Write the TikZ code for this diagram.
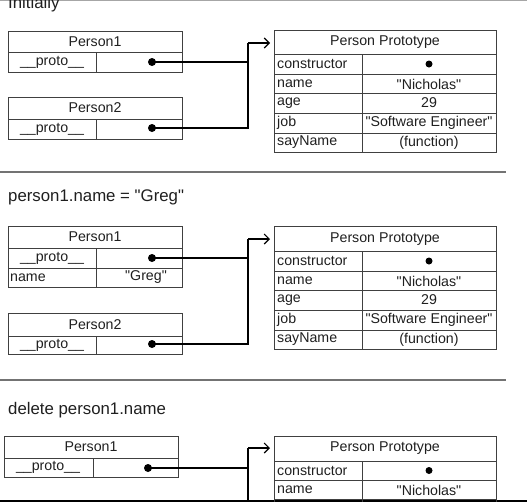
\documentclass[tikz,border=0pt]{standalone}
\usepackage{fontspec}
\setmainfont{Liberation Sans}
\usetikzlibrary{arrows.meta}
\newcommand{\qq}[1]{\textquotedbl#1\textquotedbl}
\begin{document}
\begin{tikzpicture}[x=1pt,y=-1pt,
  grid/.style={draw=black!75,line width=0.9pt},
  txt/.style={inner sep=0pt,font=\fontsize{14.2}{15}\selectfont,text=black!88},
  ltxt/.style={txt,anchor=west},
  title/.style={inner sep=0pt,anchor=base west,font=\fontsize{16.8}{18}\selectfont,text=black!88},
  dot/.style={circle,fill=black,inner sep=0pt,minimum size=8pt},
  sdot/.style={circle,fill=black,inner sep=0pt,minimum size=7pt},
  conn/.style={draw=black,line width=1.1pt},
  arr/.style={conn,-{Straight Barb[length=5pt,width=10pt,line width=1.1pt]},shorten >=4pt},
  sep/.style={draw=black!55,line width=2pt}]
\useasboundingbox (0,0) rectangle (527,501);
\clip (0,0) rectangle (527,501);
% frame lines
\draw[draw=black!35,line width=1pt] (0,0.5) -- (527,0.5);
\draw[sep] (0,172) -- (506,172);
\draw[sep] (0,380) -- (506,380);
\draw[draw=black,line width=2pt] (0,500.5) -- (527,500.5);

% ================= Section 1 =================
\node[title] (t1) at (8,8) {Initially};
% Person1
\draw[grid] (8,31) rectangle (182,72);
\draw[grid] (8,52) -- (182,52) (96,52) -- (96,72);
\node[txt] (p1a) at (95,41.5) {Person1};
\node[txt] (p1ap) at (52,62) {\_\_proto\_\_};
\node[dot] (d1a) at (152,62) {};
% Person2
\draw[grid] (8,97) rectangle (182,139);
\draw[grid] (8,119) -- (182,119) (96,119) -- (96,139);
\node[txt] (p2a) at (95,108) {Person2};
\node[txt] (p2ap) at (52,129) {\_\_proto\_\_};
\node[dot] (d2a) at (152,128) {};
% Prototype
\draw[grid] (274,30) rectangle (496,152);
\foreach \y in {54,74,93,113,133} \draw[grid] (274,\y) -- (496,\y);
\draw[grid] (362,54) -- (362,152);
\node[txt] (pra) at (385,42) {Person Prototype};
\coordinate (pra-in) at (274,43);
\node[ltxt] (pra1) at (277,64) {constructor};
\node[sdot] (pra1v) at (429,64) {};
\node[ltxt] (pra2) at (277,84) {name};
\node[txt] (pra2v) at (429,84) {\qq{Nicholas}};
\node[ltxt] (pra3) at (277,103) {age};
\node[txt] (pra3v) at (429,103) {29};
\node[ltxt] (pra4) at (277,123) {job};
\node[txt] (pra4v) at (429,123) {\qq{Software Engineer}};
\node[ltxt] (pra5) at (277,142.5) {sayName};
\node[txt] (pra5v) at (429,142.5) {(function)};
% connectors
\coordinate (ja) at (248,62);
\coordinate (ka) at (248,43);
\draw[conn] (d1a.center) -- (ja);
\draw[conn] (d2a.center) -| (ka);
\draw[arr] (ka) -- (pra-in);

% ================= Section 2 =================
\node[title] (t2) at (8,201) {person1.name = \qq{Greg}};
% Person1
\draw[grid] (8,226) rectangle (182,287);
\draw[grid] (8,248) -- (182,248) (8,268) -- (182,268) (96,248) -- (96,287);
\node[txt] (p1b) at (95,237) {Person1};
\node[txt] (p1bp) at (52,258) {\_\_proto\_\_};
\node[dot] (d1b) at (152,258) {};
\node[ltxt] (p1bn) at (10,277.5) {name};
\node[txt] (p1bv) at (146,277.5) {\qq{Greg}};
% Person2
\draw[grid] (8,313) rectangle (182,354);
\draw[grid] (8,336) -- (182,336) (96,336) -- (96,354);
\node[txt] (p2b) at (95,324.5) {Person2};
\node[txt] (p2bp) at (52,345) {\_\_proto\_\_};
\node[dot] (d2b) at (152,344) {};
% Prototype
\draw[grid] (274,226) rectangle (496,349);
\foreach \y in {251,271,290,310,330} \draw[grid] (274,\y) -- (496,\y);
\draw[grid] (362,251) -- (362,349);
\node[txt] (prb) at (385,239) {Person Prototype};
\coordinate (prb-in) at (274,239);
\node[ltxt] (prb1) at (277,261) {constructor};
\node[sdot] (prb1v) at (429,261) {};
\node[ltxt] (prb2) at (277,281) {name};
\node[txt] (prb2v) at (429,281) {\qq{Nicholas}};
\node[ltxt] (prb3) at (277,300) {age};
\node[txt] (prb3v) at (429,300) {29};
\node[ltxt] (prb4) at (277,320) {job};
\node[txt] (prb4v) at (429,320) {\qq{Software Engineer}};
\node[ltxt] (prb5) at (277,339.5) {sayName};
\node[txt] (prb5v) at (429,339.5) {(function)};
\coordinate (jb) at (248,258);
\coordinate (kb) at (248,239);
\draw[conn] (d1b.center) -- (jb);
\draw[conn] (d2b.center) -| (kb);
\draw[arr] (kb) -- (prb-in);

% ================= Section 3 =================
\node[title] (t3) at (8,414) {delete person1.name};
\draw[grid] (4,436) rectangle (178,477);
\draw[grid] (4,458) -- (178,458) (93,458) -- (93,477);
\node[txt] (p1c) at (91,447) {Person1};
\node[txt] (p1cp) at (48,467.5) {\_\_proto\_\_};
\node[dot] (d1c) at (148,468) {};
% Prototype
\draw[grid] (274,510) -- (274,436) -- (496,436) -- (496,510);
\foreach \y in {461,480,499} \draw[grid] (274,\y) -- (496,\y);
\draw[grid] (362,461) -- (362,510);
\node[txt] (prc) at (385,448.5) {Person Prototype};
\coordinate (prc-in) at (274,448);
\node[ltxt] (prc1) at (277,470.5) {constructor};
\node[sdot] (prc1v) at (429,470.5) {};
\node[ltxt] (prc2) at (277,490) {name};
\node[txt] (prc2v) at (429,490) {\qq{Nicholas}};
\coordinate (jc) at (248,468);
\coordinate (kc) at (248,448);
\coordinate (lc) at (248,510);
\draw[conn] (d1c.center) -- (jc);
\draw[conn] (lc) -- (kc);
\draw[arr] (kc) -- (prc-in);
\end{tikzpicture}
\end{document}
